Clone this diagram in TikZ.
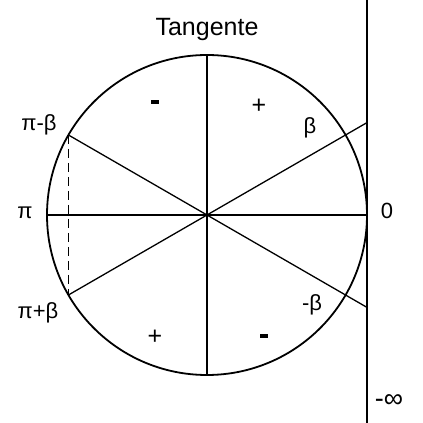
\documentclass[tikz,border=0pt]{standalone}
\usepackage{fontspec}
\setmainfont{Liberation Sans}
\usetikzlibrary{calc}
\begin{document}
\begin{tikzpicture}[x=1pt,y=1pt,
  lbl/.style={inner sep=0pt,font=\fontsize{22}{26}\selectfont},
  plus/.style={inner sep=0pt,font=\fontsize{25}{28}\selectfont},
  thin line/.style={line width=1.3pt},
  thick line/.style={line width=1.8pt}]
\useasboundingbox (0,0) rectangle (423,423);
\clip (0,0) rectangle (423,423);
\fill[white] (0,0) rectangle (423,423);
\coordinate (O) at (207,208);
\def\R{160}
\coordinate (T) at ($(O)+(90:\R)$);
\coordinate (B) at ($(O)+(270:\R)$);
\coordinate (L) at ($(O)+(180:\R)$);
\coordinate (Rt) at ($(O)+(0:\R)$);
\coordinate (PmB) at ($(O)+(150:\R)$);
\coordinate (PpB) at ($(O)+(210:\R)$);
\coordinate (tUp) at (367,423);
\coordinate (tDn) at (367,0);
\coordinate (tB) at (367,{208+92.4});
\coordinate (tmB) at (367,{208-92.4});
% axes
\draw[thin line] (T) -- (B);
\draw[thin line] (L) -- (Rt);
\draw[thin line] (PpB) -- (tB);
\draw[thin line] (PmB) -- (tmB);
\draw[line width=1.5pt, dash pattern=on 9pt off 5pt] (PmB) -- (PpB);
\draw[thick line] (O) circle (\R);
\draw[thick line] (tDn) -- (tUp);
% labels
\node[lbl,font=\fontsize{25}{28}\selectfont] (tan) at (207,394) {Tangente};
\node[inner sep=0pt] (s1) at (155,321) {\rule{8pt}{3.2pt}};
\node[plus] (s2) at (259,317) {+};
\node[plus] (s3) at (155,86) {+};
\node[inner sep=0pt] (s4) at (264,87) {\rule{8pt}{3.2pt}};
\node[lbl] (b1) at (310,295) {β};
\node[lbl] (z) at (387,212) {0};
\node[lbl] (b2) at (312,118) {-β};
\node[lbl] (pmb) at (39,298) {π-β};
\node[lbl] (pi) at (25,210) {π};
\node[lbl] (ppb) at (38,110) {π+β};
\node[lbl,font=\fontsize{27}{30}\selectfont] (minf) at (389,22) {-∞};
\end{tikzpicture}
\end{document}
